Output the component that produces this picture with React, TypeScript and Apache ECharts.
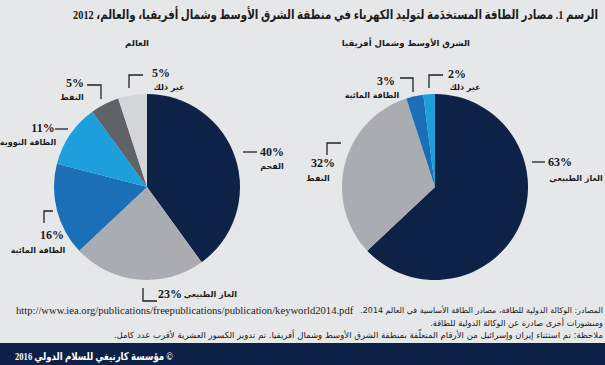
import React, { useEffect, useRef } from "react";
import * as echarts from "echarts";

// ---- data ----
const worldNames = ["الفحم", "الغاز الطبيعي", "الطاقة المائية", "الطاقة النووية", "النفط", "غير ذلك"];
const worldValues = [40, 23, 16, 11, 5, 5];
const menaNames = ["الغاز الطبيعي", "النفط", "الطاقة المائية", "غير ذلك"];
const menaValues = [63, 32, 3, 2];

const titleText = "الرسم 1. مصادر الطاقة المستخدَمة لتوليد الكهرباء في منطقة الشرق الأوسط وشمال أفريقيا، والعالم، 2012";
const worldTitle = "العالم";
const menaTitle = "الشرق الأوسط وشمال أفريقيا";
const sourceLine1 = "المصادر: الوكالة الدولية للطاقة، مصادر الطاقة الأساسية في العالم 2014.";
const sourceUrl = "http://www.iea.org/publications/freepublications/publication/keyworld2014.pdf";
const sourceLine2 = "ومنشورات أخرى صادرة عن الوكالة الدولية للطاقة.";
const noteLine = "ملاحظة: تم استثناء إيران وإسرائيل من الأرقام المتعلّقة بمنطقة الشرق الأوسط وشمال أفريقيا. تم تدوير الكسور العشرية لأقرب عدد كامل.";
const footerText = "© مؤسسة كارنيغي للسلام الدولي 2016";

// ---- styles / layout ----
const worldColors = ["#0e2248", "#a9adb2", "#1a6fb6", "#1c9fdb", "#5f6367", "#d3d6d9"];
const menaColors = ["#0e2248", "#a9adb2", "#1a6fb6", "#1c9fdb"];

type LabelLayout = {
  pct: number[];
  name: number[];
  line: number[][];
  pctAlign?: string;
  nameAlign?: string;
};

const worldLayout: LabelLayout[] = [
  { pct: [272, 152], name: [272, 166], line: [[243, 152], [257, 152]] },
  { pct: [158, 294], name: [237, 294], pctAlign: "left", nameAlign: "right", line: [[143, 288], [143, 301], [157, 301]] },
  { pct: [52, 235], name: [38, 250], line: [[53, 211], [44, 211], [44, 223]] },
  { pct: [43, 128], name: [28, 142], line: [[55, 129], [68, 129]] },
  { pct: [75, 83], name: [72, 97], line: [[87, 85], [101, 85], [101, 99]] },
  { pct: [161, 73], name: [169, 87], line: [[129, 88], [129, 75], [143, 75]] },
];

const menaLayout: LabelLayout[] = [
  { pct: [560, 162], name: [576, 178], line: [[532, 162], [545, 162]] },
  { pct: [323, 163], name: [318, 178], line: [[327, 155], [327, 143], [341, 143]] },
  { pct: [386, 81], name: [372, 95], line: [[400, 78], [413, 78], [413, 92]] },
  { pct: [457, 74], name: [465, 87], line: [[429, 88], [429, 75], [443, 75]] },
];

const rtl = (s: string) => "\u202B" + s + "\u202C";
const ARABIC = "'DejaVu Sans', sans-serif";
const SERIF = "'Liberation Serif', 'DejaVu Sans', serif";
const INK = "#1b1b1b";

let measureCtx: CanvasRenderingContext2D | null = null;
function fitScale(text: string, font: string, target: number) {
  if (!measureCtx) measureCtx = document.createElement("canvas").getContext("2d");
  if (!measureCtx) return 1;
  measureCtx.font = font;
  const w = measureCtx.measureText(text).width;
  return w > 0 ? Math.min(1.15, target / w) : 1;
}

function fittedText(
  text: string, x: number, y: number, size: number, family: string, weight: string,
  fill: string, align: string, target: number | null
) {
  const scaleX = target ? fitScale(text, `${weight} ${size}px ${family}`, target) : 1;
  return {
    type: "text",
    x,
    y,
    scaleX,
    style: { text, fontFamily: family, fontWeight: weight, fontSize: size, fill, align, verticalAlign: "middle" },
  };
}

function buildLabels(names: string[], values: number[], layout: LabelLayout[]) {
  const out: any[] = [];
  layout.forEach((L, i) => {
    out.push(fittedText(values[i] + "%", L.pct[0], L.pct[1], 12, SERIF, "bold", INK, L.pctAlign || "center", null));
    out.push(fittedText(rtl(names[i]), L.name[0], L.name[1], 8, ARABIC, "bold", INK, L.nameAlign || "center", null));
    out.push({
      type: "polyline",
      shape: { points: L.line },
      style: { stroke: "#222", lineWidth: 1.3, fill: "none" },
    });
  });
  return out;
}

function pieSeries(names: string[], values: number[], colors: string[], center: number[]) {
  return {
    type: "pie",
    center,
    radius: 93,
    startAngle: 90,
    clockwise: true,
    silent: true,
    label: { show: false },
    labelLine: { show: false },
    itemStyle: { borderWidth: 0 },
    data: values.map((v, i) => ({ name: names[i], value: v, itemStyle: { color: colors[i] } })),
  };
}

export default function App() {
  const ref = useRef<HTMLDivElement>(null);
  useEffect(() => {
    if (!ref.current) return;
    const chart = echarts.init(ref.current, undefined, { renderer: "svg" });
    chart.setOption({
      animation: false,
      backgroundColor: "#e6e7e9",
      series: [
        pieSeries(worldNames, worldValues, worldColors, [147, 187]),
        pieSeries(menaNames, menaValues, menaColors, [435, 187]),
      ],
      graphic: [
        {
          type: "rect",
          shape: { x: 0, y: 343, width: 605, height: 22 },
          style: { fill: "#0d2046" },
        },
        fittedText(rtl(titleText), 598, 15, 13, SERIF, "bold", INK, "right", 526),
        fittedText(rtl(worldTitle), 137, 43, 8.5, ARABIC, "bold", INK, "center", null),
        fittedText(rtl(menaTitle), 470, 43, 8.5, ARABIC, "bold", INK, "right", null),
        ...buildLabels(worldNames, worldValues, worldLayout),
        ...buildLabels(menaNames, menaValues, menaLayout),
        fittedText(sourceUrl, 16, 311, 10.5, SERIF, "normal", INK, "left", 338),
        fittedText(rtl(sourceLine1), 603, 310, 8, ARABIC, "normal", INK, "right", 243),
        fittedText(rtl(sourceLine2), 603, 323, 8.5, ARABIC, "normal", INK, "right", 173),
        fittedText(rtl(noteLine), 603, 335, 8.5, ARABIC, "normal", INK, "right", 490),
        fittedText(rtl(footerText), 15, 356, 11, SERIF, "bold", "#ffffff", "left", 158),
      ],
    });
    return () => chart.dispose();
  }, []);
  return (
    <div
      ref={ref}
      style={{ position: "fixed", left: 0, top: 0, width: 605, height: 365 }}
    />
  );
}
